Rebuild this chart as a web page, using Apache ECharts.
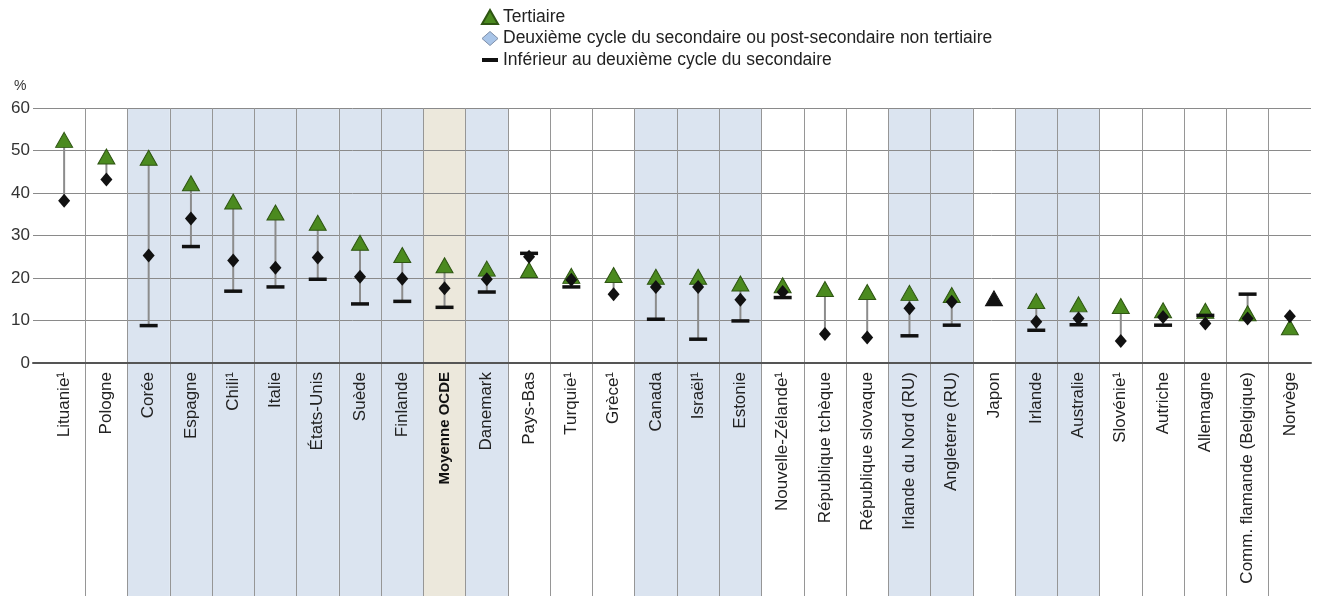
<!DOCTYPE html>
<html>
<head>
<meta charset="utf-8">
<script src="https://cdn.jsdelivr.net/npm/echarts@6/dist/echarts.min.js"></script>
<style>
	html, body { margin: 0; padding: 0; background: #fff; }
	#chart { width: 1318px; height: 596px; }
</style>
</head>
<body>
<div id="chart"></div>
<script>
// catégories (ordre du graphique)
const categories = [
	'Lituanie¹', 'Pologne', 'Corée', 'Espagne', 'Chili¹', 'Italie', 'États-Unis', 'Suède', 'Finlande',
	'Moyenne OCDE', 'Danemark', 'Pays-Bas', 'Turquie¹', 'Grèce¹', 'Canada', 'Israël¹', 'Estonie',
	'Nouvelle-Zélande¹', 'République tchèque', 'République slovaque', 'Irlande du Nord (RU)',
	'Angleterre (RU)', 'Japon', 'Irlande', 'Australie', 'Slovénie¹', 'Autriche', 'Allemagne',
	'Comm. flamande (Belgique)', 'Norvège',
];

// Tertiaire
const tertiaire = [
	52.5, 48.6, 48.3, 42.3, 38.0, 35.4, 33.0, 28.3, 25.4,
	23.0, 22.2, 21.9, 20.5, 20.7, 20.3, 20.3, 18.7,
	18.3, 17.4, 16.7, 16.5,
	16.0, 15.2, 14.6, 13.8, 13.4, 12.4, 12.3,
	11.7, 8.4,
];

// Deuxième cycle du secondaire ou post-secondaire non tertiaire
const secondaire = [
	38.2, 43.2, 25.3, 34.0, 24.1, 22.4, 24.8, 20.3, 19.8,
	17.6, 19.7, 25.0, 19.6, 16.2, 17.9, 17.9, 14.9,
	16.7, 6.8, 6.0, 12.9,
	14.4, null, 9.7, 10.5, 5.2, 10.8, 9.3,
	10.5, 11.0,
];

// Inférieur au deuxième cycle du secondaire
const inferieur = [
	null, null, 8.8, 27.4, 16.9, 17.9, 19.7, 13.9, 14.5,
	13.1, 16.7, 25.8, 17.9, null, 10.3, 5.6, 9.9,
	15.4, null, null, 6.4,
	8.9, null, 7.7, 9.0, null, 8.9, 11.2,
	16.2, null,
];

// colonnes sur fond coloré
const colonnesBleues = [
	'Corée', 'Espagne', 'Chili¹', 'Italie', 'États-Unis', 'Suède', 'Finlande', 'Danemark',
	'Canada', 'Israël¹', 'Estonie', 'Irlande du Nord (RU)', 'Angleterre (RU)', 'Irlande', 'Australie',
];
const colonneMoyenne = ['Moyenne OCDE'];
const triangleNoir = ['Japon'];

const FONT = '"Liberation Sans", Arial, sans-serif';
const NOM_TER = 'Tertiaire';
const NOM_SEC = 'Deuxième cycle du secondaire ou post-secondaire non tertiaire';
const NOM_INF = 'Inférieur au deuxième cycle du secondaire';

// trait vertical entre le min et le max de chaque pays
let liaison = categories.map((c, i) => {
	let vals = [tertiaire[i], secondaire[i], inferieur[i]].filter((v) => v != null);
	return [i, Math.min(...vals), Math.max(...vals)];
});

let myChart = echarts.init(document.getElementById('chart'), null, { renderer: 'canvas' });

let option = {
	animation: false,
	title: {
		text: '%',
		left: 9,
		top: 74,
		textStyle: { fontSize: 14, fontWeight: 'normal', color: '#333', fontFamily: FONT },
	},
	legend: {
		orient: 'vertical',
		left: 476,
		top: 3,
		itemWidth: 16,
		itemHeight: 14,
		itemGap: 3.5,
		textStyle: { fontSize: 17.5, color: '#222', fontFamily: FONT },
		data: [
			{ name: NOM_TER, icon: 'triangle' },
			{
				name: NOM_SEC,
				icon: 'diamond',
				itemStyle: { color: '#a9c5e8', borderColor: '#7d8ea8', borderWidth: 1 },
			},
			{ name: NOM_INF, icon: 'path://M0,0M16,14M0,5H16V9H0Z' },
		],
	},
	grid: [
		// fonds des colonnes et séparateurs verticaux
		{ left: 43, right: 7, top: 108, bottom: 0 },
		// points
		{ left: 43, right: 7, top: 108, bottom: 233 },
		// lignes horizontales (débordent à gauche)
		{ left: 33, right: 7, top: 108, bottom: 233 },
	],
	xAxis: [
		{
			gridIndex: 0,
			type: 'category',
			data: categories,
			axisLine: { show: false },
			axisTick: { show: false },
			axisLabel: { show: false },
			splitLine: {
				show: true,
				interval: 0,
				showMinLine: false,
				showMaxLine: false,
				lineStyle: { color: '#969696', width: 1 },
			},
		},
		{
			gridIndex: 1,
			type: 'category',
			data: categories,
			axisLine: { show: false },
			axisTick: { show: false },
			axisLabel: {
				interval: 0,
				rotate: 90,
				margin: 9,
				fontSize: 17,
				color: '#222',
				fontFamily: FONT,
				formatter: (v) => (colonneMoyenne.includes(v) ? '{b|' + v + '}' : v),
				rich: { b: { fontSize: 15, fontWeight: 'bold', color: '#111', fontFamily: FONT } },
			},
			splitLine: { show: false },
		},
		{
			gridIndex: 2,
			type: 'value',
			min: 0,
			max: 1,
			axisLine: { show: true, lineStyle: { color: '#555', width: 2 } },
			axisTick: { show: false },
			axisLabel: { show: false },
			splitLine: { show: false },
		},
	],
	yAxis: [
		{ gridIndex: 0, type: 'value', min: 0, max: 1, show: false },
		{
			gridIndex: 1,
			type: 'value',
			min: 0,
			max: 60,
			interval: 10,
			axisLine: { show: false },
			axisTick: { show: false },
			axisLabel: { margin: 13, fontSize: 17, color: '#333', fontFamily: FONT },
			splitLine: { show: false },
		},
		{
			gridIndex: 2,
			type: 'value',
			min: 0,
			max: 60,
			interval: 10,
			axisLine: { show: false },
			axisTick: { show: false },
			axisLabel: { show: false },
			splitLine: { show: true, lineStyle: { color: '#8a8a8a', width: 1 } },
		},
	],
	series: [
		{
			name: 'fond bleu',
			type: 'bar',
			xAxisIndex: 0,
			yAxisIndex: 0,
			silent: true,
			z: -1,
			barWidth: '100%',
			itemStyle: { color: '#dbe4f0' },
			data: categories.map((c) => (colonnesBleues.includes(c) ? 1 : '-')),
		},
		{
			name: 'fond moyenne',
			type: 'bar',
			xAxisIndex: 0,
			yAxisIndex: 0,
			silent: true,
			z: -1,
			barWidth: '100%',
			barGap: '-100%',
			itemStyle: { color: '#ece8dc' },
			data: categories.map((c) => (colonneMoyenne.includes(c) ? 1 : '-')),
		},
		{
			name: 'liaison',
			type: 'custom',
			xAxisIndex: 1,
			yAxisIndex: 1,
			silent: true,
			z: 2,
			encode: { x: 0, y: [1, 2] },
			data: liaison,
			renderItem: (params, api) => {
				let p1 = api.coord([api.value(0), api.value(1)]);
				let p2 = api.coord([api.value(0), api.value(2)]);
				return {
					type: 'line',
					shape: { x1: p1[0], y1: p1[1], x2: p2[0], y2: p2[1] },
					style: { stroke: '#8c8c8c', lineWidth: 2 },
				};
			},
		},
		{
			name: NOM_TER,
			type: 'scatter',
			xAxisIndex: 1,
			yAxisIndex: 1,
			z: 3,
			symbol: 'triangle',
			symbolSize: [17, 15],
			itemStyle: { color: '#4b8a1f', borderColor: '#2e5512', borderWidth: 1, opacity: 1 },
			data: tertiaire.map((v, i) =>
				triangleNoir.includes(categories[i]) ? { value: v, itemStyle: { color: '#111', borderColor: '#111' } } : v,
			),
		},
		{
			name: NOM_INF,
			type: 'scatter',
			xAxisIndex: 1,
			yAxisIndex: 1,
			z: 4,
			symbol: 'rect',
			symbolSize: [18, 3.5],
			itemStyle: { color: '#111', opacity: 1 },
			data: inferieur,
		},
		{
			name: NOM_SEC,
			type: 'scatter',
			xAxisIndex: 1,
			yAxisIndex: 1,
			z: 5,
			symbol: 'diamond',
			symbolSize: [12, 14],
			itemStyle: { color: '#111', opacity: 1 },
			data: secondaire,
		},
	],
};

myChart.setOption(option);
</script>
</body>
</html>
